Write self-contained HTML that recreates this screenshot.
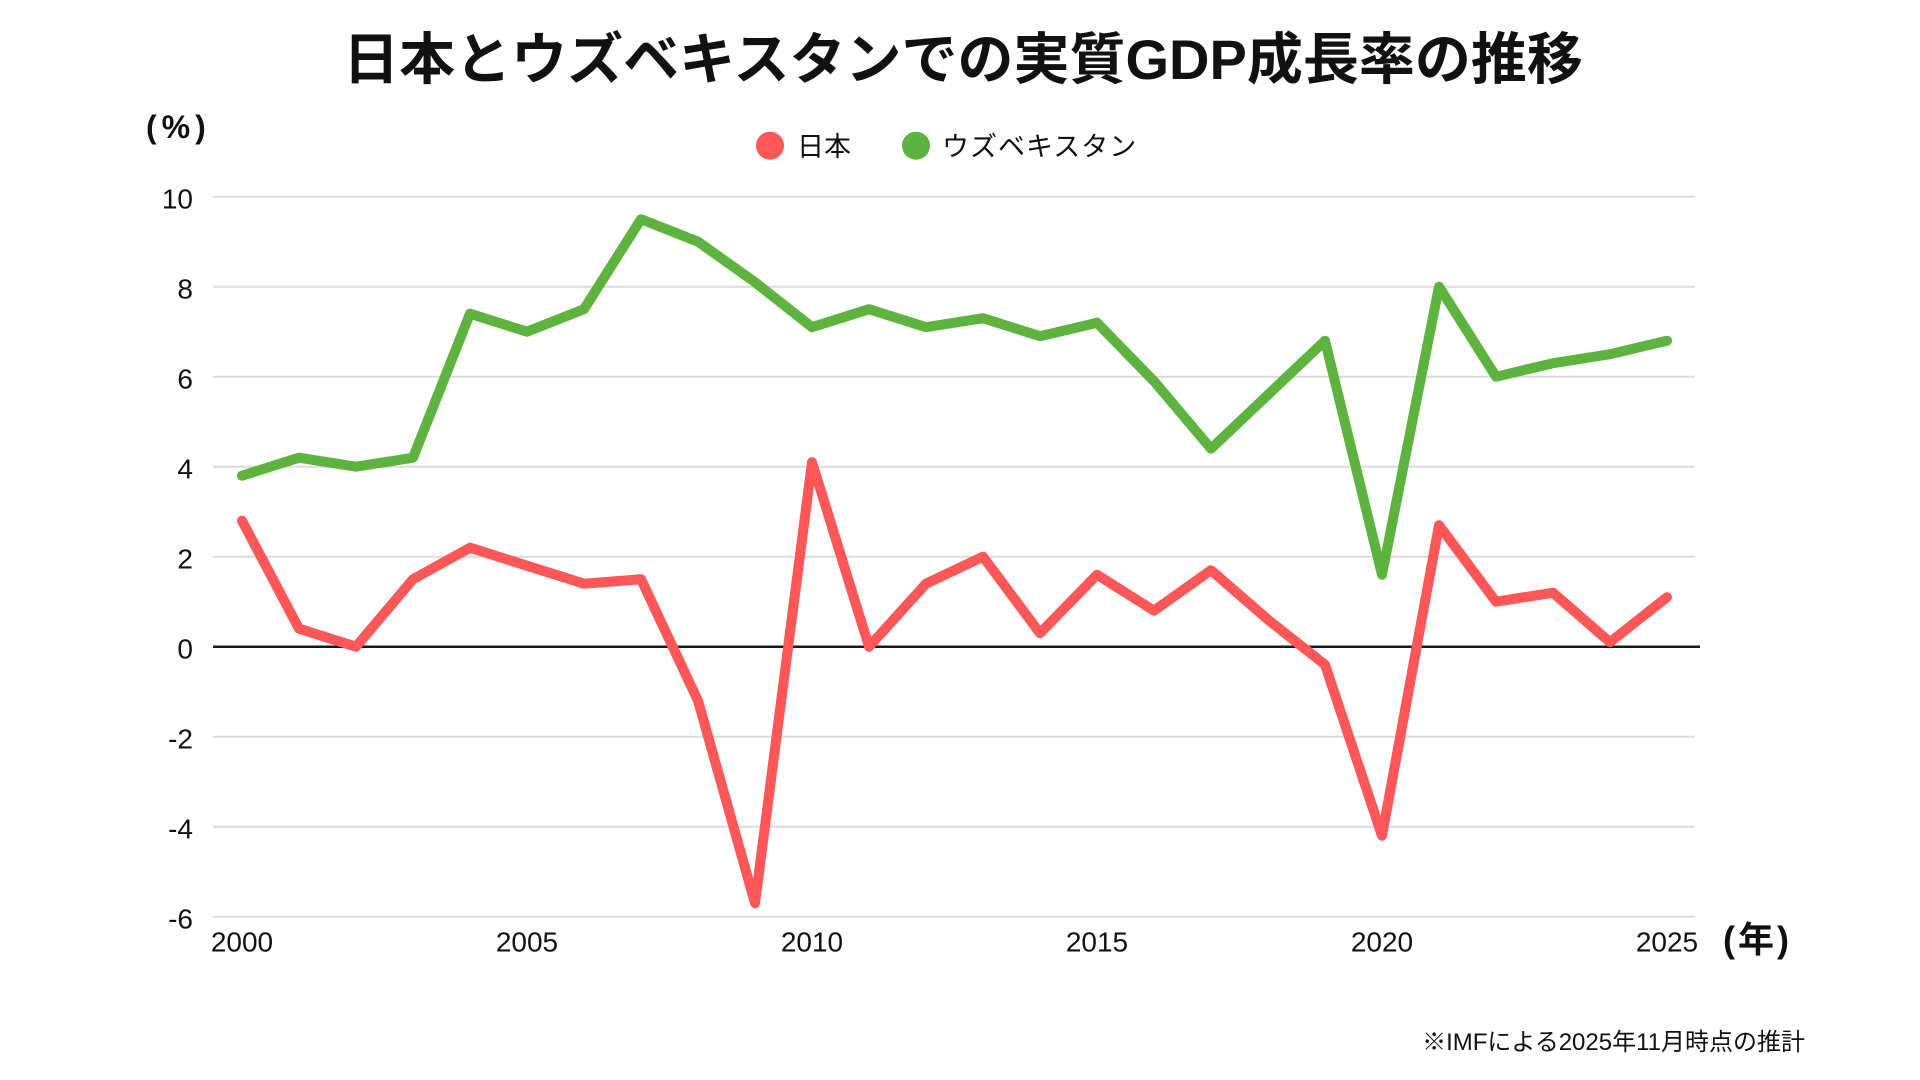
<!DOCTYPE html>
<html>
<head>
<meta charset="utf-8">
<style>
  html, body { margin: 0; padding: 0; background: #ffffff; }
  body { width: 1920px; height: 1080px; overflow: hidden; }
  svg { display: block; }
  text { font-family: "Liberation Sans", "Noto Sans CJK JP", sans-serif; fill: #111; }
</style>
</head>
<body>
<svg width="1920" height="1080" viewBox="0 0 1920 1080" xmlns="http://www.w3.org/2000/svg">
  <rect x="0" y="0" width="1920" height="1080" fill="#ffffff"/>

  <!-- Title -->
  <text x="963" y="79" font-size="56" font-weight="bold" text-anchor="middle" fill="#000">日本とウズベキスタンでの実質GDP成長率の推移</text>

  <!-- Unit label -->
  <text x="146" y="138" font-size="32" font-weight="bold" letter-spacing="5" fill="#000">(%)</text>

  <!-- Legend -->
  <circle cx="770" cy="145.7" r="14" fill="#FF5757"/>
  <text x="797" y="156" font-size="27" fill="#111">日本</text>
  <circle cx="916" cy="145.7" r="14" fill="#5DB33D"/>
  <text x="942" y="156" font-size="27" letter-spacing="1" fill="#111">ウズベキスタン</text>

  <!-- Gridlines -->
  <g stroke="#dcdcdc" stroke-width="2">
    <line x1="213" y1="196.7" x2="1695" y2="196.7"/>
    <line x1="213" y1="286.7" x2="1695" y2="286.7"/>
    <line x1="213" y1="376.7" x2="1695" y2="376.7"/>
    <line x1="213" y1="466.7" x2="1695" y2="466.7"/>
    <line x1="213" y1="556.7" x2="1695" y2="556.7"/>
    <line x1="213" y1="736.7" x2="1695" y2="736.7"/>
    <line x1="213" y1="826.7" x2="1695" y2="826.7"/>
    <line x1="213" y1="916.7" x2="1695" y2="916.7"/>
  </g>
  <!-- Zero line -->
  <line x1="213" y1="646.7" x2="1700" y2="646.7" stroke="#1a1a1a" stroke-width="2.5"/>

  <!-- Y tick labels -->
  <g font-size="28" text-anchor="end">
    <text x="193" y="208.3">10</text>
    <text x="193" y="298.3">8</text>
    <text x="193" y="388.3">6</text>
    <text x="193" y="478.3">4</text>
    <text x="193" y="568.3">2</text>
    <text x="193" y="658.3">0</text>
    <text x="193" y="748.3">-2</text>
    <text x="193" y="838.3">-4</text>
    <text x="193" y="928.3">-6</text>
  </g>

  <!-- X tick labels -->
  <g font-size="28" text-anchor="middle">
    <text x="242" y="951.5">2000</text>
    <text x="527" y="951.5">2005</text>
    <text x="812" y="951.5">2010</text>
    <text x="1097" y="951.5">2015</text>
    <text x="1382" y="951.5">2020</text>
    <text x="1667" y="951.5">2025</text>
  </g>

  <!-- X unit label -->
  <text x="1723" y="952" font-size="36" font-weight="bold" letter-spacing="3" fill="#000">(年)</text>

  <!-- Uzbekistan series -->
  <polyline fill="none" stroke="#5DB33D" stroke-width="10" stroke-linejoin="round" stroke-linecap="round"
    points="242,475.7 299,457.7 356,466.7 413,457.7 470,313.7 527,331.7 584,309.2 641,219.2 698,241.7 755,282.2 812,327.2 869,309.2 926,327.2 983,318.2 1040,336.2 1097,322.7 1154,381.2 1211,448.7 1268,394.7 1325,340.7 1382,574.7 1439,286.7 1496,376.7 1553,363.2 1610,354.2 1667,340.7"/>

  <!-- Japan series -->
  <polyline fill="none" stroke="#FF5757" stroke-width="10" stroke-linejoin="round" stroke-linecap="round"
    points="242,520.7 299,628.7 356,646.7 413,579.2 470,547.7 527,565.7 584,583.7 641,579.2 698,700.7 755,903.2 812,462.2 869,646.7 926,583.7 983,556.7 1040,633.2 1097,574.7 1154,610.7 1211,570.2 1268,619.7 1325,664.7 1382,835.7 1439,525.2 1496,601.7 1553,592.7 1610,642.2 1667,597.2"/>

  <!-- Footnote -->
  <text x="1805" y="1050" font-size="24" text-anchor="end" fill="#111">※IMFによる2025年11月時点の推計</text>
</svg>
</body>
</html>
